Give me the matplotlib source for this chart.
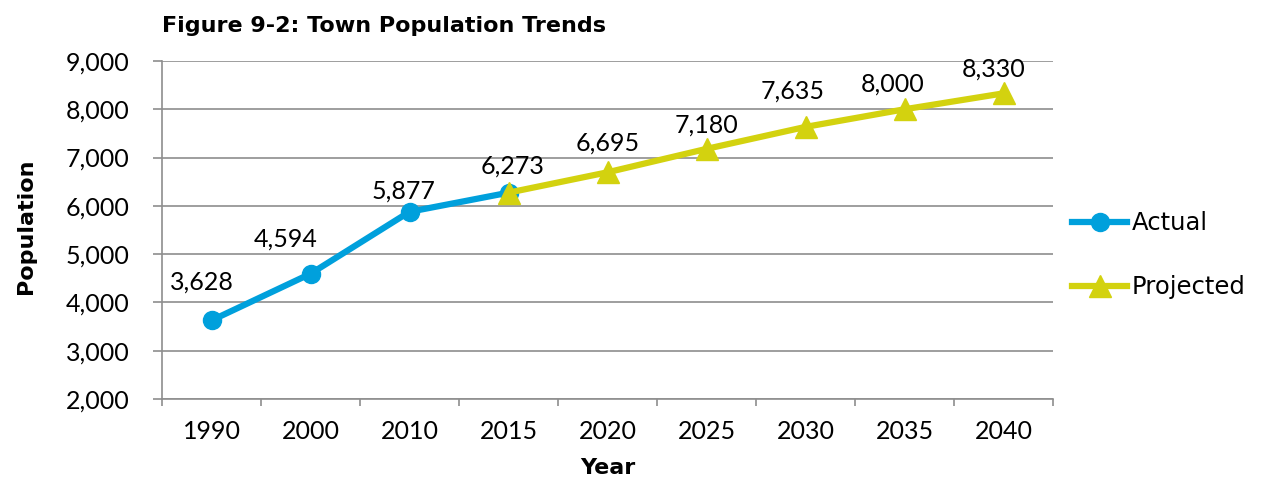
import matplotlib
matplotlib.use('Agg')
import matplotlib.pyplot as plt
import numpy as np

plt.rcParams['font.family'] = ['Lato', 'DejaVu Sans']

# data
years = ['1990', '2000', '2010', '2015', '2020', '2025', '2030', '2035', '2040']
actual = [3628, 4594, 5877, 6273]
projected = [6273, 6695, 7180, 7635, 8000, 8330]

# where each value label sits relative to its point (pixels, up is +)
label_offsets = [(-10, 38), (-25, 35), (-6, 21), (4, 27),
                 (0, 29), (0, 24), (-13, 36), (-12, 25), (-10, 24)]

x = np.arange(len(years))
x_act = x[:len(actual)]
x_proj = x[len(actual) - 1:]

blue = '#00A0DC'
yellow = '#D3D20F'
grid = '#8E8E8E'
wide_font = ['DejaVu Sans']

fig = plt.figure(figsize=(12.67, 4.78), dpi=100)
ax = fig.add_axes([162 / 1267, 1 - 399 / 478, 891 / 1267, 338 / 478])

ax.plot(x_act, actual, color=blue, lw=4.5, marker='o', ms=13, label='Actual', zorder=3)
ax.plot(x_proj, projected, color=yellow, lw=4.5, marker='^', ms=16, label='Projected', zorder=4)

# value labels, 2015 shown once
all_vals = actual + projected[1:]
for xi, v, off in zip(x, all_vals, label_offsets):
    ax.annotate('{:,}'.format(v), xy=(xi, v), xytext=off, textcoords='offset pixels',
                ha='center', va='center', size=18)

ax.set_xlim(-0.5, len(years) - 0.5)
ax.set_ylim(2000, 9000)
ax.set_yticks(np.arange(2000, 9001, 1000))
ax.set_yticklabels(['{:,}'.format(v) for v in range(2000, 9001, 1000)])
ax.set_xticks(x)
ax.set_xticklabels(years)
ax.set_xticks(np.arange(-0.5, len(years), 1), minor=True)

ax.tick_params(axis='x', which='major', length=0, pad=15, labelsize=18)
ax.tick_params(axis='x', which='minor', length=5, color=grid, width=1.2)
ax.tick_params(axis='y', length=6.5, color=grid, width=1.2, labelsize=18, pad=17)

ax.grid(axis='y', color=grid, lw=1.2)
ax.set_axisbelow(True)
for s in ['top', 'right']:
    ax.spines[s].set_visible(False)
for s in ['left', 'bottom']:
    ax.spines[s].set_color(grid)
    ax.spines[s].set_linewidth(1.2)

ax.set_ylabel('Population', fontsize=16, fontweight='bold', family=wide_font)
ax.yaxis.set_label_coords(-0.141, 0.51)
ax.set_xlabel('Year', fontsize=16, fontweight='bold', family=wide_font)
ax.xaxis.set_label_coords(0.5, -0.175)
fig.text(162 / 1267, 1 - 32 / 478, 'Figure 9-2: Town Population Trends', fontsize=16,
         fontweight='bold', family=wide_font, va='baseline', ha='left')

ax.legend(loc='center left', bbox_to_anchor=(1.008, 0.425), frameon=False,
          prop={'family': wide_font, 'size': 17.5},
          borderpad=0, handlelength=2.25, handletextpad=0.2, labelspacing=1.65)

fig.savefig('out.png', dpi=100)
